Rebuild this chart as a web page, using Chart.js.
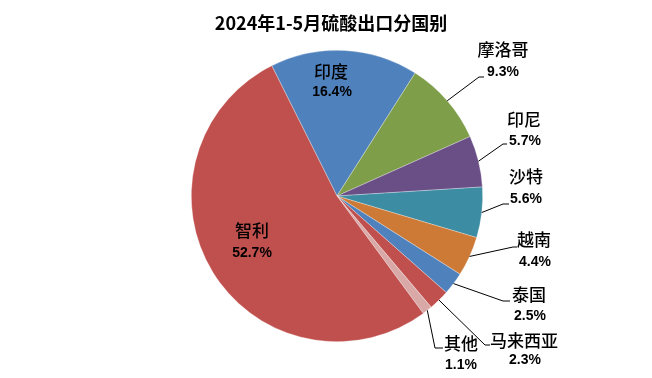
<!DOCTYPE html>
<html>
<head>
<meta charset="utf-8">
<script src="https://cdn.jsdelivr.net/npm/chart.js@4/dist/chart.umd.min.js"></script>
<style>
html,body{margin:0;padding:0;background:#fff;}
#wrap{width:652px;height:378px;position:relative;}
</style>
</head>
<body>
<div id="wrap"><canvas id="c" width="652" height="378"></canvas></div>
<script>
const titleText = '2024年1-5月硫酸出口分国别';
const categories = ['印度','摩洛哥','印尼','沙特','越南','泰国','马来西亚','其他','智利'];
const shares = [16.4, 9.3, 5.7, 5.6, 4.4, 2.5, 2.3, 1.1, 52.7];
const pctLabels = ['16.4%','9.3%','5.7%','5.6%','4.4%','2.5%','2.3%','1.1%','52.7%'];
const sliceColors = ['#4F81BD','#7F9E4A','#6A4F86','#3C8CA3','#CD7A37','#4F81BD','#C0504D','#D9A9A8','#C0504D'];

// label layout relative to pie centre (px): name centre, pct centre, leader elbow, leader end
const labelLayout = [
  {name:[-6,-124], pct:[-5,-104]},
  {name:[166,-146], pct:[166,-124], elbow:[142,-119], end:[147,-119]},
  {name:[187,-76], pct:[188,-55], elbow:[166,-52], end:[170,-52]},
  {name:[189,-19], pct:[189,3], elbow:[166,8], end:[172,8]},
  {name:[197,44], pct:[198,66], elbow:[176,51], end:[180,51]},
  {name:[192,99], pct:[193,120], elbow:[166,105], end:[173,105]},
  {name:[187,145], pct:[188,164], elbow:[148,149], end:[153,149]},
  {name:[124,148], pct:[124,169], elbow:[98,152], end:[106,152]},
  {name:[-85,35], pct:[-85,57]}
];

const labelPlugin = {
  id: 'pieLabels',
  afterDatasetsDraw(chart) {
    const ctx = chart.ctx;
    const meta = chart.getDatasetMeta(0);
    ctx.save();
    ctx.fillStyle = '#000';
    ctx.font = 'bold 18px "Noto Sans CJK SC"';
    ctx.textAlign = 'center';
    ctx.textBaseline = 'middle';
    ctx.fillText(titleText, 331, 23);
    meta.data.forEach((arc, i) => {
      const p = arc.getProps(['x','y','startAngle','endAngle','outerRadius'], true);
      const mid = (p.startAngle + p.endAngle) / 2;
      const L = labelLayout[i];
      if (L.elbow) {
        ctx.beginPath();
        ctx.strokeStyle = '#000';
        ctx.lineWidth = 1;
        ctx.moveTo(p.x + Math.cos(mid) * p.outerRadius, p.y + Math.sin(mid) * p.outerRadius);
        ctx.lineTo(p.x + L.elbow[0], p.y + L.elbow[1]);
        ctx.lineTo(p.x + L.end[0], p.y + L.end[1]);
        ctx.stroke();
      }
      ctx.fillStyle = '#000';
      ctx.font = '500 17px "Noto Sans CJK SC"';
      ctx.fillText(categories[i], p.x + L.name[0], p.y + L.name[1]);
      ctx.font = 'bold 14px "Liberation Sans"';
      ctx.fillText(pctLabels[i], p.x + L.pct[0], p.y + L.pct[1]);
    });
    ctx.restore();
  }
};

new Chart(document.getElementById('c'), {
  type: 'pie',
  data: {
    labels: categories,
    datasets: [{
      data: shares,
      backgroundColor: sliceColors,
      borderColor: 'rgba(255,255,255,0.5)',
      borderWidth: 0.6,
      hoverOffset: 0
    }]
  },
  options: {
    responsive: false,
    animation: false,
    events: [],
    rotation: -26.6,
    layout: { padding: { left: 191, right: 169, top: 50, bottom: 36 } },
    plugins: {
      legend: { display: false },
      title: { display: false },
      tooltip: { enabled: false }
    }
  },
  plugins: [labelPlugin]
});
</script>
</body>
</html>
